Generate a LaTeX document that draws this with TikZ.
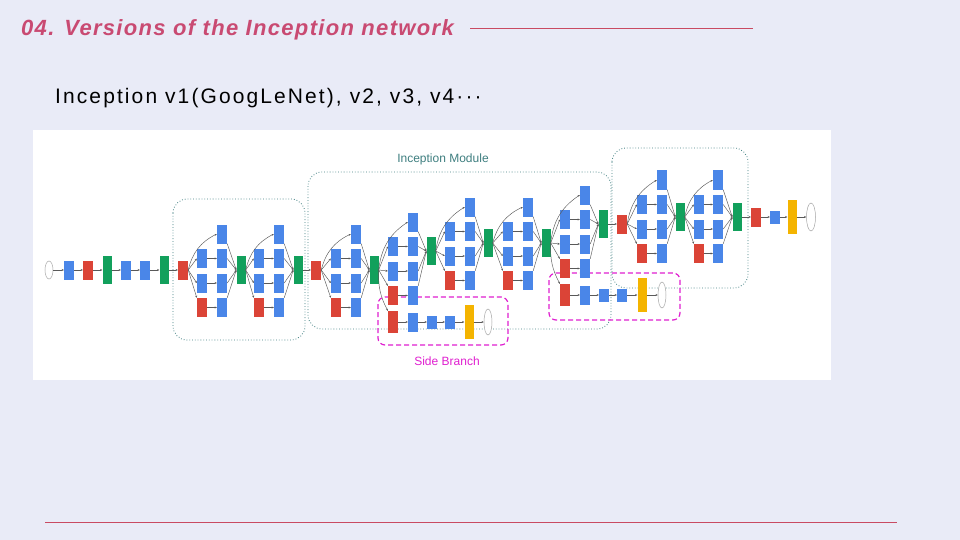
\documentclass[tikz,border=0pt]{standalone}
\usepackage{fontspec}
\setmainfont{Liberation Sans}
\usetikzlibrary{arrows.meta,shapes.geometric}
\definecolor{bgc}{HTML}{E9EBF7}
\definecolor{gblue}{HTML}{4A86E8}
\definecolor{gred}{HTML}{DB4437}
\definecolor{ggreen}{HTML}{12A05C}
\definecolor{gyellow}{HTML}{F4B400}
\definecolor{titc}{HTML}{C94A72}
\definecolor{linec}{HTML}{C94A62}
\definecolor{teal}{HTML}{3F7F80}
\definecolor{mag}{HTML}{E020D0}
\tikzset{
 bx/.style={draw=none,inner sep=0pt,minimum width=10pt,minimum height=19pt},
 bl/.style={bx,fill=gblue},
 rd/.style={bx,fill=gred},
 gr/.style={bx,fill=ggreen,minimum width=9pt,minimum height=28pt},
 yl/.style={bx,fill=gyellow,minimum width=9pt,minimum height=34pt},
 sm/.style={bx,fill=gblue,minimum height=13pt},
 ov/.style={ellipse,draw=gray!70,fill=white,inner sep=0pt,minimum width=8pt,minimum height=18pt,line width=0.5pt},
 ed/.style={draw=gray!70!black,line width=0.45pt,-{Stealth[length=2.2pt,width=2pt]}},
 dotbox/.style={draw=teal,dotted,line width=0.8pt,rounded corners=14pt},
 magbox/.style={draw=mag,dashed,dash pattern=on 5pt off 3pt,line width=1.2pt,rounded corners=7pt}
}
\newcommand\incmod[7]{%
 \node[bl] (#1t) at (#3,#5) {};
 \node[bl] (#1a) at (#2,#5+24.5) {};
 \node[bl] (#1b) at (#2,#5+49) {};
 \node[rd] (#1c) at (#2,#5+73.5) {};
 \node[bl] (#1d) at (#3,#5+24.5) {};
 \node[bl] (#1e) at (#3,#5+49) {};
 \node[bl] (#1f) at (#3,#5+73.5) {};
 \node[gr] (#1g) at (#4,#6) {};
 \draw[ed] (#7.east) to[bend left=25] (#1t.west);
 \draw[ed] (#7.east) -- (#1a.west);
 \draw[ed] (#7.east) -- (#1b.west);
 \draw[ed] (#7.east) -- (#1c.north west);
 \draw[ed] (#1a) -- (#1d); \draw[ed] (#1b) -- (#1e); \draw[ed] (#1c) -- (#1f);
 \draw[ed] (#1t.south east) -- (#1g.west);
 \draw[ed] (#1d.east) -- (#1g.west);
 \draw[ed] (#1e.east) -- (#1g.west);
 \draw[ed] (#1f.north east) -- (#1g.west);
}
\begin{document}
\begin{tikzpicture}[x=1pt,y=-1pt]
\useasboundingbox (0,0) rectangle (960,540);
\fill[bgc] (0,0) rectangle (960,540);
\node[anchor=west,inner sep=0pt,text=titc,font=\bfseries\itshape\fontsize{22}{23}\selectfont\addfontfeature{LetterSpace=6}] (title) at (21,30) {04. Versions of the Inception network};
\coordinate (tl1) at (470,28); \coordinate (tl2) at (753,28);
\draw[linec,line width=0.8pt] (tl1) -- (tl2);
\node[anchor=west,inner sep=0pt,font=\fontsize{21}{22}\selectfont\addfontfeature{LetterSpace=10}] (sub) at (55,98) {Inception v1(GoogLeNet), v2, v3, v4\textperiodcentered\textperiodcentered\textperiodcentered};
\coordinate (bl1) at (45,522); \coordinate (bl2) at (897,522);
\draw[linec,line width=0.8pt] (bl1) -- (bl2);
\fill[white] (33,130) rectangle (831,380);
% dotted boxes
\draw[dotbox] (173,199) rectangle (305,340);
\draw[dotbox] (308,172) rectangle (611,329);
\draw[dotbox] (612,148) rectangle (748,288);
\node[text=teal,font=\fontsize{12}{13}\selectfont] (lblim) at (443,159) {Inception Module};
\node[text=mag,font=\fontsize{12}{13}\selectfont] (lblsb) at (447,361) {Side Branch};
\draw[magbox] (378,297) rectangle (508,345);
\draw[magbox] (549,273) rectangle (680,320);
% stem
\node[ov] (in) at (49,270) {};
\node[bl] (s1) at (69,270) {};
\node[rd] (s2) at (88,270) {};
\node[gr] (s3) at (107,270) {};
\node[bl] (s4) at (126,270) {};
\node[bl] (s5) at (145,270) {};
\node[gr] (s6) at (164,270) {};
\node[rd] (s7) at (183,270) {};
\foreach \p/\q in {in/s1,s1/s2,s2/s3,s3/s4,s4/s5,s5/s6,s6/s7} \draw[ed] (\p) -- (\q);
\incmod{ma}{202}{222}{241}{234}{270}{s7}
\incmod{mb}{259}{279}{298}{234}{270}{mag}
\node[rd] (p3) at (316,270) {};
\draw[ed] (mbg) -- (p3);
\incmod{mc}{336}{356}{374}{234}{270}{p3}
\incmod{md}{393}{413}{431}{222}{251}{mcg}
\incmod{me}{450}{470}{488}{207}{243}{mdg}
\incmod{mf}{508}{528}{546}{207}{243}{meg}
\incmod{mh}{565}{585}{603}{195}{224}{mfg}
\node[rd] (p4) at (622,224) {};
\draw[ed] (mhg) -- (p4);
\incmod{mi}{642}{662}{680}{180}{217}{p4}
\incmod{mj}{699}{718}{737}{180}{217}{mig}
\node[rd] (e1) at (756,217) {};
\node[sm] (e2) at (775,217) {};
\node[yl] (e3) at (792,217) {};
\node[ov,minimum width=9pt,minimum height=28pt] (e4) at (811,217) {};
\foreach \p/\q in {mjg/e1,e1/e2,e2/e3,e3/e4} \draw[ed] (\p) -- (\q);
% side branch 1
\node[rd,minimum height=22pt] (a1) at (393,322) {};
\node[bl] (a2) at (413,322) {};
\node[sm] (a3) at (432,322) {};
\node[sm] (a4) at (450,322) {};
\node[yl] (a5) at (469,322) {};
\node[ov,minimum height=26pt] (a6) at (488,322) {};
\draw[ed] (mcg.east) to[bend right=15] (a1.north west);
\foreach \p/\q in {a1/a2,a2/a3,a3/a4,a4/a5,a5/a6} \draw[ed] (\p) -- (\q);
% side branch 2
\node[rd,minimum height=22pt] (b1) at (565,295) {};
\node[bl] (b2) at (585,295) {};
\node[sm] (b3) at (604,295) {};
\node[sm] (b4) at (622,295) {};
\node[yl] (b5) at (642,295) {};
\node[ov,minimum height=26pt] (b6) at (662,295) {};
\draw[ed] (mfg.east) to[bend right=15] (b1.north west);
\foreach \p/\q in {b1/b2,b2/b3,b3/b4,b4/b5,b5/b6} \draw[ed] (\p) -- (\q);
\end{tikzpicture}
\end{document}
